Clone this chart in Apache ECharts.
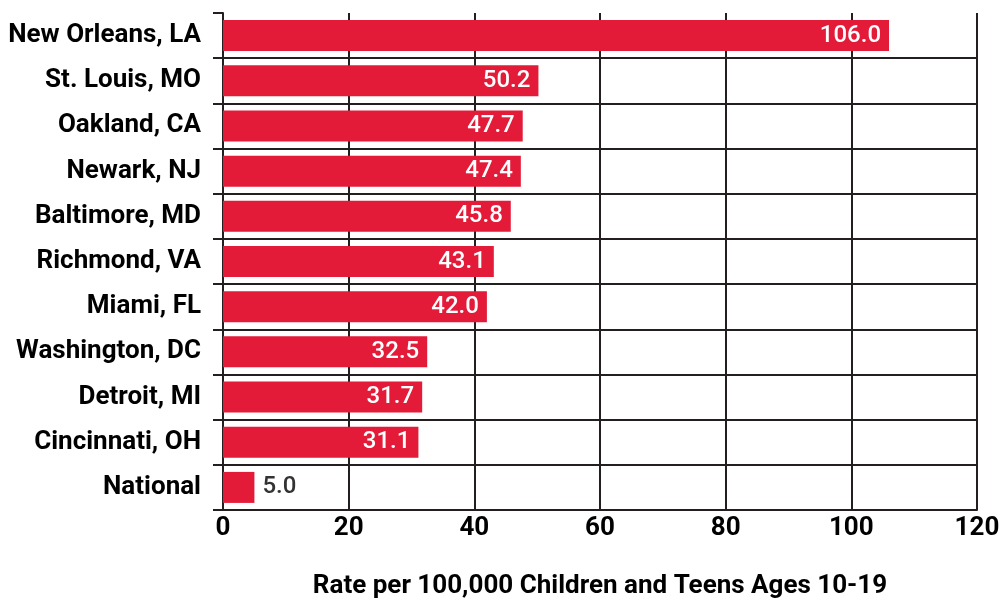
<!DOCTYPE html>
<html><head><meta charset="utf-8">
<script src="https://cdn.jsdelivr.net/npm/echarts@6/dist/echarts.min.js"></script>
<style>html,body{margin:0;padding:0;background:#fff}#c{width:1003px;height:604px}</style>
</head><body><div id="c"></div>
<script>
const categories = ['New Orleans, LA','St. Louis, MO','Oakland, CA','Newark, NJ','Baltimore, MD','Richmond, VA','Miami, FL','Washington, DC','Detroit, MI','Cincinnati, OH','National'];
const values = [106.0, 50.2, 47.7, 47.4, 45.8, 43.1, 42.0, 32.5, 31.7, 31.1, 5.0];
const xTicks = [0, 20, 40, 60, 80, 100, 120];
const axisTitle = 'Rate per 100,000 Children and Teens Ages 10-19';

const FONT = 'Roboto, sans-serif';
const INK = '#231f20';
const chart = echarts.init(document.getElementById('c'), null, {renderer:'canvas'});
chart.setOption({
  animation:false,
  grid:{left:223, right:26, top:13, bottom:91, containLabel:false},
  xAxis:{
    type:'value', min:xTicks[0], max:xTicks[xTicks.length-1], interval:xTicks[1]-xTicks[0],
    axisLine:{show:true, lineStyle:{color:INK, width:2}},
    axisTick:{show:false},
    splitLine:{show:true, lineStyle:{color:INK, width:2}},
    axisLabel:{color:'#000', fontSize:26, fontWeight:'bold', fontFamily:FONT, margin:5},
    name:axisTitle, nameLocation:'middle', nameGap:63,
    nameTextStyle:{color:'#000', fontSize:26, fontWeight:'bold', fontFamily:FONT}
  },
  yAxis:{
    type:'category', data:categories, inverse:true,
    axisLine:{show:true, lineStyle:{color:INK, width:2}},
    axisTick:{show:true, length:10, lineStyle:{color:INK, width:2}},
    splitLine:{show:true, interval:(i)=> i!==0, lineStyle:{color:INK, width:2}},
    axisLabel:{color:'#000', fontSize:26, fontWeight:'bold', fontFamily:FONT, margin:22}
  },
  series:[{
    type:'bar', barWidth:31,
    data:values.map(v=> v<10 ? {value:v, label:{position:'right', color:'#333', distance:8}} : v),
    itemStyle:{color:'#E31A38'},
    label:{show:true, formatter:p=>p.value.toFixed(1),
      position:'insideRight', distance:8, color:'#fff', fontSize:24, fontFamily:FONT, fontWeight:500}
  }]
});
</script></body></html>
